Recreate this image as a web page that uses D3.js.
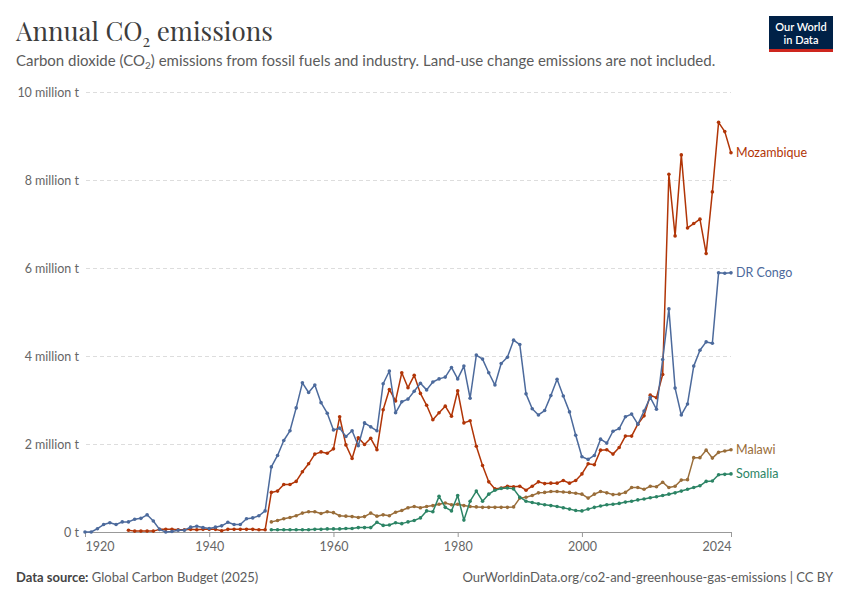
<!DOCTYPE html>
<html>
<head>
<meta charset="utf-8">
<script src="https://cdn.jsdelivr.net/npm/d3@7"></script>
<style>
  body { margin: 0; background: #fff; }
  text { font-family: Lato, "Noto Sans", sans-serif; }
</style>
</head>
<body>
<div id="chart"></div>
<script>
// values in million tonnes
var congoStart = 1920;
var congo = [
  0, 0, 0.075, 0.17, 0.21, 0.17, 0.23, 0.23, 0.29, 0.31,
  0.39, 0.25, 0.06, 0.0, 0.01, 0.04, 0.04, 0.11, 0.13, 0.10,
  0.08, 0.11, 0.14, 0.22, 0.17, 0.17, 0.30, 0.32, 0.37, 0.48,
  1.48, 1.74, 2.08, 2.30, 2.82, 3.39, 3.17, 3.34, 2.94, 2.70,
  2.32, 2.36, 2.17, 2.30, 1.96, 2.48, 2.39, 2.30, 3.37, 3.66,
  2.71, 2.96, 3.02, 3.20, 3.38, 3.23, 3.41, 3.48, 3.52, 3.74,
  3.48, 3.77, 3.04, 4.02, 3.93, 3.62, 3.34, 3.83, 3.97, 4.36,
  4.26, 3.14, 2.80, 2.66, 2.76, 3.10, 3.47, 3.09, 2.73, 2.20,
  1.71, 1.65, 1.74, 2.11, 2.02, 2.29, 2.35, 2.62, 2.68, 2.45,
  2.75, 3.06, 2.79, 3.92, 5.07, 3.27, 2.66, 2.91, 3.77, 4.13,
  4.32, 4.29, 5.89, 5.88, 5.89
];

var mozStart = 1927;
var mozambique = [
  0.04, 0.02, 0.02, 0.02,
  0.02, 0.06, 0.06, 0.06, 0.05, 0.05, 0.06, 0.05, 0.06,
  0.06, 0.06, 0.03, 0.06, 0.06, 0.06, 0.06, 0.06, 0.05, 0.05,
  0.90, 0.93, 1.08, 1.08, 1.15, 1.37, 1.55, 1.77, 1.82, 1.79,
  1.89, 2.62, 1.98, 1.67, 2.14, 1.99, 2.13, 1.87, 2.78, 3.24,
  2.98, 3.62, 3.28, 3.56, 3.15, 2.88, 2.55, 2.71, 2.86, 2.63,
  3.21, 2.48, 2.53, 1.95, 1.51, 1.14, 0.98, 1.00, 1.04, 1.03,
  1.04, 0.95, 1.04, 1.14, 1.10, 1.11, 1.11, 1.17, 1.11, 1.17,
  1.32, 1.55, 1.53, 1.86, 1.87, 1.77, 1.92, 2.18, 2.18, 2.45,
  2.64, 3.11, 3.05, 3.58, 8.13, 6.73, 8.57, 6.91, 7.01, 7.11,
  6.33, 7.73, 9.31, 9.10, 8.62
];

var malawiStart = 1950;
var malawi = [
  0.23, 0.26, 0.30, 0.33, 0.37, 0.43, 0.46, 0.46, 0.42, 0.46,
  0.44, 0.37, 0.36, 0.35, 0.33, 0.35, 0.43, 0.36, 0.39, 0.37,
  0.45, 0.49, 0.55, 0.58, 0.55, 0.58, 0.60, 0.63, 0.66, 0.62,
  0.63, 0.60, 0.58, 0.57, 0.56, 0.56, 0.56, 0.56, 0.56, 0.57,
  0.77, 0.79, 0.83, 0.89, 0.90, 0.92, 0.92, 0.91, 0.90, 0.88,
  0.86, 0.77, 0.86, 0.92, 0.89, 0.85, 0.86, 0.90, 1.01, 1.01,
  0.97, 1.04, 1.03, 1.13, 1.01, 1.04, 1.18, 1.19, 1.69, 1.69,
  1.86, 1.68, 1.81, 1.84, 1.87
];

var somaliaStart = 1950;
var somalia = [
  0.05, 0.05, 0.05, 0.05, 0.05, 0.05, 0.05, 0.06, 0.06, 0.07,
  0.07, 0.07, 0.08, 0.08, 0.10, 0.10, 0.10, 0.22, 0.15, 0.16,
  0.21, 0.19, 0.23, 0.26, 0.32, 0.48, 0.46, 0.81, 0.56, 0.48,
  0.83, 0.27, 0.70, 0.93, 0.70, 0.86, 0.95, 0.99, 1.00, 0.98,
  0.79, 0.70, 0.67, 0.64, 0.62, 0.60, 0.58, 0.55, 0.52, 0.49,
  0.48, 0.52, 0.56, 0.59, 0.62, 0.63, 0.65, 0.68, 0.70, 0.73,
  0.75, 0.78, 0.80, 0.83, 0.86, 0.89, 0.93, 0.97, 1.01, 1.05,
  1.15, 1.16, 1.30, 1.31, 1.32
];

var yTicks = [0, 2, 4, 6, 8, 10];
var yTickLabels = ["0 t", "2 million t", "4 million t", "6 million t", "8 million t", "10 million t"];
var xTicks = [1920, 1940, 1960, 1980, 2000, 2024];

var series = [
  {name: "Mozambique", start: mozStart, values: mozambique, color: "#b13507"},
  {name: "DR Congo", start: congoStart, values: congo, color: "#4c6a9c"},
  {name: "Malawi", start: malawiStart, values: malawi, color: "#996d39"},
  {name: "Somalia", start: somaliaStart, values: somalia, color: "#2c8465"}
];

var W = 850, H = 600;
var margin = {top: 92, right: 119, bottom: 68, left: 85};

var svg = d3.select("#chart").append("svg")
    .attr("width", W)
    .attr("height", H);

// header
var title = svg.append("text")
    .attr("x", 16).attr("y", 41)
    .style("font-family", "'Playfair Display', 'Liberation Serif', 'DejaVu Serif', serif")
    .style("font-size", "26px")
    .style("fill", "#3d3d3d");
title.append("tspan").text("Annual CO");
title.append("tspan").attr("dy", 6).style("font-size", "16px").text("2");
title.append("tspan").attr("dy", -6).text(" emissions");

var sub = svg.append("text")
    .attr("x", 16).attr("y", 66)
    .style("font-size", "15px")
    .style("fill", "#5b5b5b");
sub.append("tspan").text("Carbon dioxide (CO");
sub.append("tspan").attr("dy", 3).style("font-size", "10px").text("2");
sub.append("tspan").attr("dy", -3).text(") emissions from fossil fuels and industry. Land-use change emissions are not included.");

// logo
var logo = svg.append("g").attr("transform", "translate(769,16)");
logo.append("rect").attr("width", 64).attr("height", 36).attr("fill", "#002147");
logo.append("rect").attr("y", 33).attr("width", 64).attr("height", 3).attr("fill", "#ce261e");
logo.append("text").attr("x", 32).attr("y", 15).attr("text-anchor", "middle")
    .style("font-size", "11px").style("fill", "#fff").style("font-weight", 600).text("Our World");
logo.append("text").attr("x", 32).attr("y", 28).attr("text-anchor", "middle")
    .style("font-size", "11px").style("fill", "#fff").style("font-weight", 600).text("in Data");

var width = W - margin.left - margin.right,
    height = H - margin.top - margin.bottom;

var x = d3.scaleLinear().domain([1920, 2024]).range([0, width]);
var y = d3.scaleLinear().domain([0, 10]).range([height, 0]);

var g = svg.append("g")
    .attr("transform", "translate(" + margin.left + "," + margin.top + ")");

// y grid + labels
var yAxis = g.append("g")
    .call(d3.axisLeft(y).tickValues(yTicks)
        .tickSize(-width).tickPadding(6)
        .tickFormat(function(d, i) { return yTickLabels[i]; }));
yAxis.select(".domain").remove();
yAxis.selectAll(".tick line")
    .attr("stroke", "#dddddd")
    .attr("stroke-dasharray", "4,3")
    .attr("x1", 1);
yAxis.selectAll(".tick text")
    .style("font-family", "Lato, sans-serif")
    .style("font-size", "12.5px")
    .style("fill", "#666");
yAxis.selectAll(".tick").filter(function(d) { return d === 0; }).select("line").remove();

// x axis
var xAxis = g.append("g")
    .attr("transform", "translate(0," + height + ")")
    .call(d3.axisBottom(x).tickValues(xTicks).tickSize(5).tickPadding(5).tickFormat(d3.format("d")));
xAxis.select(".domain").attr("stroke", "#999").attr("d", "M0,0.5H" + width);
xAxis.selectAll(".tick line").attr("stroke", "#999");
xAxis.selectAll(".tick text")
    .style("font-family", "Lato, sans-serif")
    .style("font-size", "12.5px")
    .style("fill", "#666")
    .attr("text-anchor", function(d) { return d === 1920 ? "start" : (d === 2024 ? "end" : "middle"); });

var line = d3.line()
    .x(function(d) { return x(d.year); })
    .y(function(d) { return y(d.value); });

series.forEach(function(s) {
  var data = s.values.map(function(v, i) { return {year: s.start + i, value: v}; });
  var sg = g.append("g");
  sg.append("path")
    .datum(data)
    .attr("fill", "none")
    .attr("stroke", s.color)
    .attr("stroke-width", 1.5)
    .attr("stroke-linejoin", "round")
    .attr("d", line);
  sg.selectAll("circle")
    .data(data)
    .enter().append("circle")
    .attr("cx", function(d) { return x(d.year); })
    .attr("cy", function(d) { return y(d.value); })
    .attr("r", 1.8)
    .attr("fill", s.color);
  var last = data[data.length - 1];
  g.append("text")
    .attr("x", x(last.year) + 5)
    .attr("y", y(last.value))
    .attr("dy", "0.35em")
    .style("font-size", "12.5px")
    .style("fill", s.color)
    .text(s.name);
});

// footer
var foot = svg.append("text")
    .attr("x", 16).attr("y", 582)
    .style("font-size", "13px")
    .style("fill", "#5b5b5b");
foot.append("tspan").style("font-weight", 700).style("fill", "#444").text("Data source:");
foot.append("tspan").text(" Global Carbon Budget (2025)");

svg.append("text")
    .attr("x", 833).attr("y", 582)
    .attr("text-anchor", "end")
    .style("font-size", "13px")
    .style("fill", "#5b5b5b")
    .text("OurWorldinData.org/co2-and-greenhouse-gas-emissions | CC BY");
</script>
</body>
</html>
